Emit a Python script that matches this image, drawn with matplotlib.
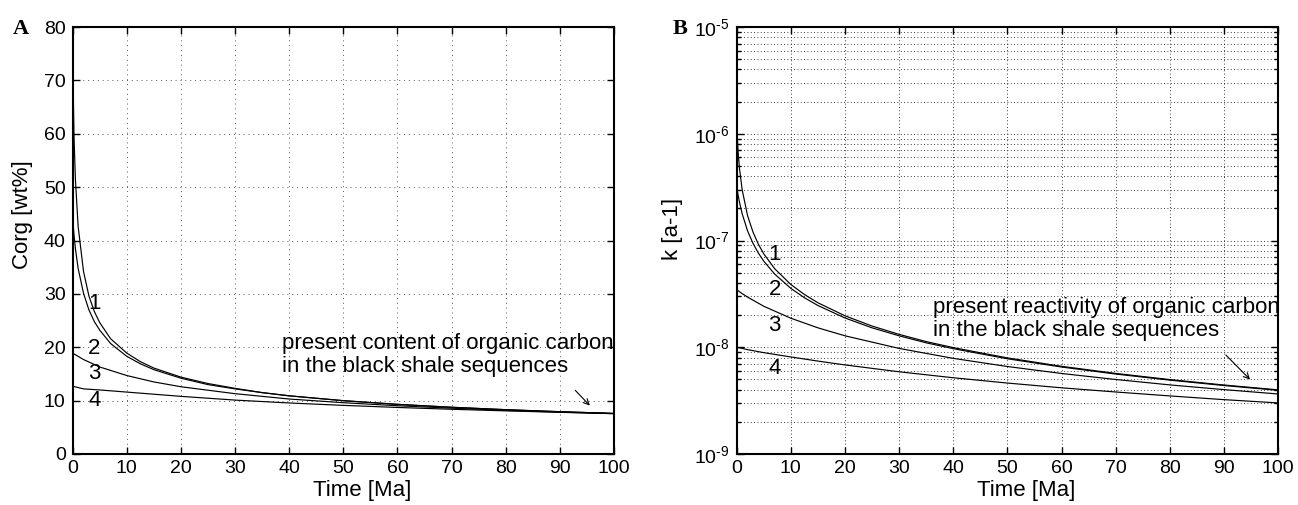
import numpy as np
import matplotlib
matplotlib.use("Agg")
import matplotlib.pyplot as plt
from matplotlib.ticker import MultipleLocator, LogLocator, NullFormatter, FuncFormatter

plt.rcParams['font.family'] = ['Liberation Sans', 'DejaVu Sans']
plt.rcParams['mathtext.fontset'] = 'custom'
plt.rcParams['mathtext.rm'] = 'Liberation Sans'
plt.rcParams['mathtext.it'] = 'Liberation Sans:italic'

# time axis [Ma]; curves 1-2 need denser sampling near t=0
t_fast = [0, 0.25, 0.5, 1, 2, 3, 4, 5, 7, 10, 12.5, 15, 20, 25, 30, 35, 40, 50, 60, 70, 80, 90, 100]
t_slow = [0, 1, 2, 5, 10, 15, 20, 30, 40, 50, 60, 70, 80, 90, 100]

# panel A: Corg [wt%]
corg_1 = [73.9, 59.3, 51.5, 42.7, 34.2, 29.6, 26.7, 24.6, 21.6, 18.9, 17.3, 16.1, 14.4,
          13.2, 12.3, 11.5, 10.9, 10.0, 9.31, 8.76, 8.31, 7.93, 7.6]
corg_2 = [44.1, 41.0, 38.5, 34.8, 30.1, 27.0, 24.8, 23.2, 20.7, 18.3, 16.9, 15.8, 14.2,
          13.0, 12.2, 11.5, 10.9, 9.98, 9.29, 8.75, 8.30, 7.92, 7.6]
corg_3 = [18.9, 18.3, 17.7, 16.3, 14.7, 13.5, 12.6, 11.3, 10.3, 9.61, 9.04, 8.58, 8.18, 7.84, 7.55]
corg_4 = [12.7, 12.45, 12.2, 12.0, 11.6, 11.2, 10.8, 10.1, 9.56, 9.11, 8.72, 8.38, 8.08, 7.81, 7.57]

# panel B: reactivity k [1/a]
k_1 = [1.18e-6, 6.78e-7, 4.76e-7, 2.99e-7, 1.71e-7, 1.20e-7, 9.22e-8, 7.49e-8, 5.45e-8,
       3.87e-8, 3.12e-8, 2.61e-8, 1.97e-8, 1.58e-8, 1.32e-8, 1.13e-8, 9.92e-9, 7.95e-9,
       6.63e-9, 5.69e-9, 4.98e-9, 4.43e-9, 3.99e-9]
k_2 = [3.20e-7, 2.67e-7, 2.29e-7, 1.78e-7, 1.23e-7, 9.41e-8, 7.62e-8, 6.40e-8, 4.85e-8,
       3.56e-8, 2.91e-8, 2.46e-8, 1.88e-8, 1.52e-8, 1.28e-8, 1.10e-8, 9.70e-9, 7.80e-9,
       6.53e-9, 5.61e-9, 4.92e-9, 4.38e-9, 3.95e-9]
k_3 = [3.45e-8, 3.18e-8, 2.95e-8, 2.42e-8, 1.87e-8, 1.52e-8, 1.28e-8, 9.75e-9, 7.87e-9,
       6.60e-9, 5.68e-9, 4.99e-9, 4.44e-9, 4.01e-9, 3.65e-9]
k_4 = [1.00e-8, 9.75e-9, 9.5e-9, 8.9e-9, 8.11e-9, 7.42e-9, 6.83e-9, 5.89e-9, 5.18e-9,
       4.62e-9, 4.17e-9, 3.81e-9, 3.50e-9, 3.23e-9, 3.01e-9]


def pow10_label(v, pos):
    e = int(round(np.log10(v)))
    return r'$\mathdefault{10^{\text{-}%d}}$' % abs(e) if e < 0 else r'$\mathdefault{10^{%d}}$' % e


fig = plt.figure(figsize=(12.98, 5.05), dpi=100)
axA = fig.add_axes([0.056, 0.101, 0.417, 0.8455])
axB = fig.add_axes([0.5676, 0.101, 0.417, 0.8455])

lw = 0.85
for ax in (axA, axB):
    for s in ax.spines.values():
        s.set_linewidth(1.5)
    ax.tick_params(which='both', direction='in', top=True, right=True,
                   labelsize=14, width=1, length=5)
    ax.tick_params(which='minor', length=3)
    ax.tick_params(axis='x', pad=4)
    ax.tick_params(axis='y', pad=5)
    ax.set_xlim(0, 100)
    ax.xaxis.set_major_locator(MultipleLocator(10))
    ax.set_xlabel('Time [Ma]', fontsize=16)
    ax.xaxis.set_label_coords(0.535, -0.062)

# ---- panel A
axA.plot(t_fast, corg_1, color='k', lw=lw)
axA.plot(t_fast, corg_2, color='k', lw=lw)
axA.plot(t_slow, corg_3, color='k', lw=lw)
axA.plot(t_slow, corg_4, color='k', lw=lw)
axA.set_ylim(0, 80)
axA.yaxis.set_major_locator(MultipleLocator(10))
axA.grid(True, which='major', color='0.35', linestyle=(0, (1, 4)), lw=0.7)
axA.set_ylabel('Corg [wt%]', fontsize=16, va='center')
axA.yaxis.set_label_coords(-0.093, 0.56)
for lab, yv in zip(['1', '2', '3', '4'], [28.2, 19.8, 15.0, 10.1]):
    axA.text(4.0, yv, lab, fontsize=16, ha='center', va='center')
axA.text(38.6, 18.5, 'present content of organic carbon\nin the black shale sequences',
         fontsize=16, ha='left', va='center', linespacing=1.1)
axA.annotate('', xy=(95.9, 8.7), xytext=(92.5, 12.3),
             arrowprops=dict(arrowstyle='->', color='k', lw=0.8, mutation_scale=10))

# ---- panel B
axB.plot(t_fast, k_1, color='k', lw=lw)
axB.plot(t_fast, k_2, color='k', lw=lw)
axB.plot(t_slow, k_3, color='k', lw=lw)
axB.plot(t_slow, k_4, color='k', lw=lw)
axB.set_yscale('log')
axB.set_ylim(1e-9, 1e-5)
axB.yaxis.set_major_locator(LogLocator(base=10, numticks=10))
axB.yaxis.set_major_formatter(FuncFormatter(pow10_label))
axB.yaxis.set_minor_locator(LogLocator(base=10, subs=np.arange(2, 10), numticks=50))
axB.yaxis.set_minor_formatter(NullFormatter())
axB.grid(True, which='both', axis='y', color='k', linestyle=(0, (1, 3)), lw=0.6)
axB.grid(True, which='major', axis='x', color='k', linestyle=(0, (1, 3)), lw=0.6)
axB.set_ylabel('k [a-1]', fontsize=16, va='center')
axB.yaxis.set_label_coords(-0.1186, 0.526)
for lab, yv in zip(['1', '2', '3', '4'], [7.35e-8, 3.51e-8, 1.59e-8, 6.38e-9]):
    axB.text(7.0, yv, lab, fontsize=16, ha='center', va='center')
axB.text(36.3, 1.83e-8, 'present reactivity of organic carbon\nin the black shale sequences',
         fontsize=16, ha='left', va='center', linespacing=1.1)
axB.annotate('', xy=(95.2, 4.78e-9), xytext=(90.0, 8.83e-9),
             arrowprops=dict(arrowstyle='->', color='k', lw=0.8, mutation_scale=10))

fig.text(21 / 1298, 1 - 29 / 505, 'A', fontsize=16, fontweight='bold',
         family='Liberation Serif', ha='center', va='center')
fig.text(680 / 1298, 1 - 29 / 505, 'B', fontsize=16, fontweight='bold',
         family='Liberation Serif', ha='center', va='center')

fig.savefig('out.png', dpi=100)
